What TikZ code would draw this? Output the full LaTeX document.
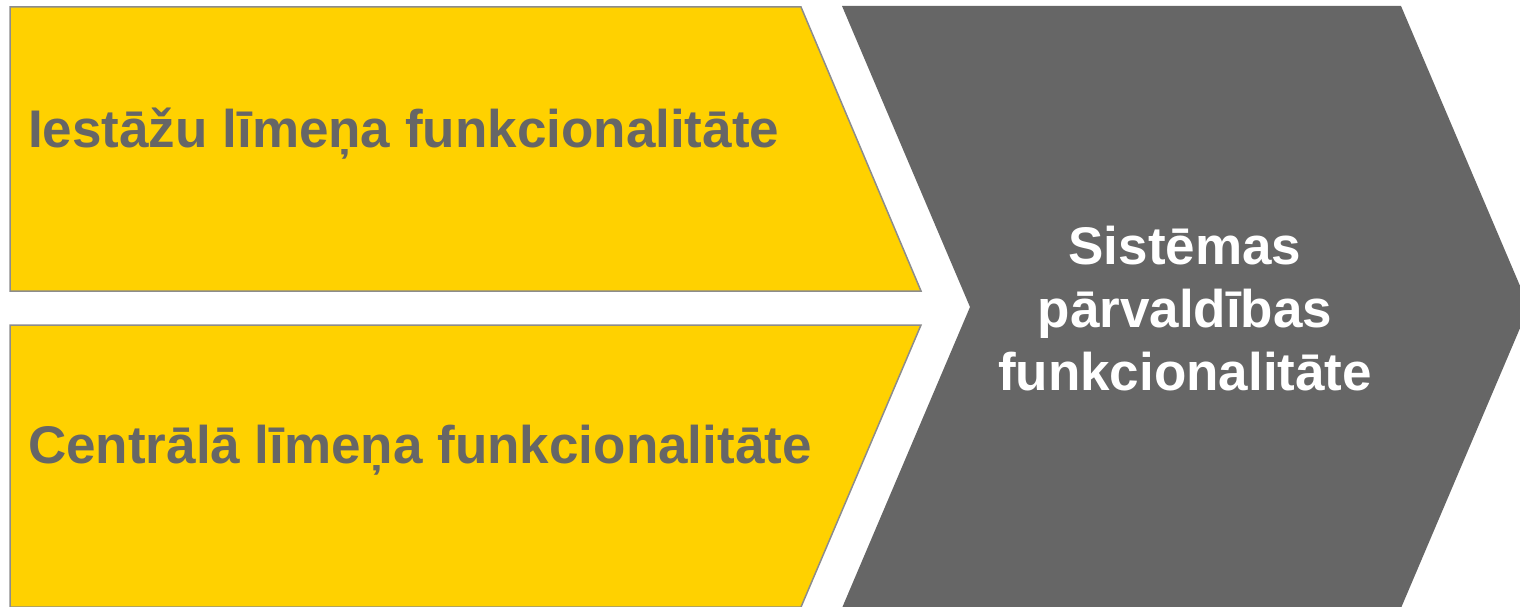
\documentclass[tikz,border=0pt]{standalone}
\usepackage{fontspec}
\setmainfont{Liberation Sans}
\definecolor{dzeltens}{RGB}{255,209,0}
\definecolor{peleks}{RGB}{102,102,102}
\definecolor{mala}{RGB}{140,140,140}

\begin{document}
\begin{tikzpicture}[x=1pt,y=-1pt,
    bulta/.style={fill=dzeltens, draw=mala, line width=1.5pt, line join=miter},
    uzraksts/.style={font=\fontsize{53}{63}\selectfont\bfseries, inner sep=0pt}]

    \useasboundingbox (0,0) rectangle (1520,607);
    \clip (0,0) rectangle (1520,607);

    \draw[bulta] (10,7) -- (801,7) -- (921,291) -- (10,291) -- cycle;
	\draw[bulta] (10,325) -- (921,325) -- (801,607) -- (10,607) -- cycle;
    \fill[peleks] (842,6) -- (1401,6) -- (1529,307) -- (1401,608) -- (842,608) -- (970,307) -- cycle;

    \node[uzraksts, text=peleks, anchor=base west] (iestazu) at (28,147) {Iestāžu līmeņa funkcionalitāte};
    \node[uzraksts, text=peleks, anchor=base west] (centrala) at (28,463) {Centrālā līmeņa funkcionalitāte};
    \node[uzraksts, text=white, align=center, anchor=base] (sistema) at (1185,390) {Sistēmas\\pārvaldības\\funkcionalitāte};
\end{tikzpicture}
\end{document}
